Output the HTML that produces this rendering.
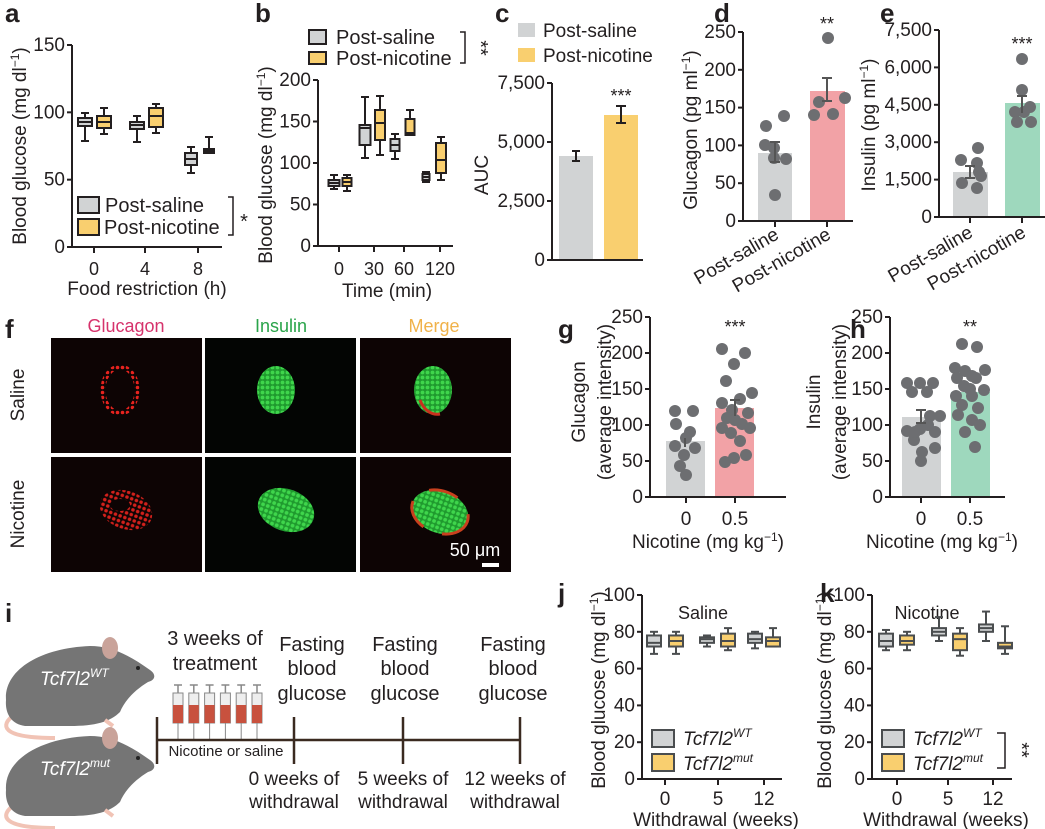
<!DOCTYPE html>
<html><head><meta charset="utf-8"><style>
html,body{margin:0;padding:0;background:#fff}
svg{display:block;font-family:"Liberation Sans",Arial,sans-serif}
</style></head><body>
<svg id="s" width="1045" height="829" viewBox="0 0 1045 829" xmlns="http://www.w3.org/2000/svg">
<defs>
<pattern id="dotsR" width="5" height="5" patternUnits="userSpaceOnUse"><circle cx="2.5" cy="2.5" r="1.8" fill="#e8231e"/></pattern>
<pattern id="dotsG" width="5" height="5" patternUnits="userSpaceOnUse"><rect width="5" height="5" fill="#1f9a2e"/><circle cx="2.5" cy="2.5" r="1.9" fill="#3fd64c"/></pattern>
</defs>
</svg>
<script>
const s=document.getElementById('s');let h='';
const GR='#d1d3d4',OR='#f9cf6f',PK='#f2a2a6',GN='#9ed8bd',DT='#6d6e71',AX='#231f20';
function t(x,y,str,o={}){h+=`<text x="${x}" y="${y}" font-size="${o.fs||17}" text-anchor="${o.a||'middle'}" fill="${o.c||AX}" ${o.b?'font-weight="bold"':''} ${o.i?'font-style="italic"':''} ${o.r!=null?`transform="rotate(${o.r} ${x} ${y})"`:''}>${str}</text>`}
function L(x1,y1,x2,y2,w=2,c=AX){h+=`<line x1="${x1}" y1="${y1}" x2="${x2}" y2="${y2}" stroke="${c}" stroke-width="${w}"/>`}
function R(x,y,w,hh,f,st='none',sw=0){h+=`<rect x="${x}" y="${y}" width="${w}" height="${hh}" fill="${f}" stroke="${st}" stroke-width="${sw}"/>`}
function C(x,y,r=6,f=DT){h+=`<circle cx="${x}" cy="${y}" r="${r}" fill="${f}"/>`}
function axes(ax,y0,y1,xe,ticks,opts={}){
 L(ax,y0+1,ax,y1,2);L(ax-1,y0,xe,y0,2);
 ticks.forEach((v,i)=>{let y=y0-(y0-y1)*i/(ticks.length-1);L(ax-5,y,ax,y,2);t(ax-7,y+6,v,{a:'end',fs:opts.fs||19})});
}
function box(cx,w,q1,q3,md,lo,hi,f,st=AX){L(cx,lo,cx,hi,2,st);L(cx-4,lo,cx+4,lo,2,st);L(cx-4,hi,cx+4,hi,2,st);R(cx-w/2,q3,w,q1-q3,f,st,2);L(cx-w/2,md,cx+w/2,md,2,st)}
const ML='(mg dl<tspan font-size="12" dy="-7">−1</tspan><tspan dy="7">)</tspan>';
// a
t(5,22,'a',{a:'start',fs:26,b:1});
axes(72,247,45,222,['0','50','100','150']);
[94,145,198].forEach((x,i)=>{L(x,247,x,253);t(x,275,['0','4','8'][i],{fs:18})});
t(147,295,'Food restriction (h)',{fs:19});
t(26,146,'Blood glucose '+ML,{r:-90,fs:19});
box(85,14,126,118,122,141,113,GR);box(104,14,128,116,122,134,108,OR);
box(137,14,129,122,125,142,116,GR);box(156,14,127,108,116,133,104,OR);
box(191,12,165,153,159,173,147,GR);box(209,10,153,149,151,153,137,OR);
R(78,197,21,16,GR,AX,2);R(78,219,21,16,OR,AX,2);
t(105,212,'Post-saline',{a:'start',fs:20});t(104,234,'Post-nicotine',{a:'start',fs:20});
h+=`<polyline points="228,197 233,197 233,235 228,235" fill="none" stroke="${AX}" stroke-width="1.5"/>`;t(244,228,'*',{fs:20});
// b
t(255,22,'b',{a:'start',fs:26,b:1});
axes(318,246,80,453,['0','50','100','150','200']);
[339,374,404,440].forEach((x,i)=>{L(x,246,x,252);t(x,275,['0','30','60','120'][i],{fs:18})});
t(387,297,'Time (min)',{fs:19});
t(272,165,'Blood glucose '+ML,{r:-90,fs:19});
box(334,11,186,180,183,189,175,GR);box(347,9,186,178,182,191,175,OR);
box(365,11,145,125,128,158,97,GR);box(380,10,140,110,123,155,96,OR);
box(395,9,151,139,145,159,134,GR);box(410,9,135,119,133,135,110,OR);
box(426,7,180,174,177,182,172,GR);box(441,10,173,143,160,180,137,OR);
R(309,30,17,14,GR,AX,2);R(309,52,17,12,OR,AX,2);
t(336,44,'Post-saline',{a:'start',fs:20});t(336,65,'Post-nicotine',{a:'start',fs:20});
h+=`<polyline points="460,32 465,32 465,63 460,63" fill="none" stroke="${AX}" stroke-width="1.5"/>`;t(474,48,'**',{fs:20,r:90});
// c
t(495,22,'c',{a:'start',fs:26,b:1});
R(518,23,17,14,GR);R(518,48,17,14,OR);
t(543,37,'Post-saline',{a:'start',fs:19});t(543,62,'Post-nicotine',{a:'start',fs:19});
R(559,156,34,104,GR);R(604,115,34,145,OR);
axes(552,260,83,643,['0','2,500','5,000','7,500']);
L(576,151,576,161);L(572,151,580,151);L(572,161,580,161);
L(621,106,621,123);L(616,106,626,106);L(616,123,626,123);
t(621,102,'***',{fs:18});t(488,175,'AUC',{r:-90,fs:19});
// d
t(714,22,'d',{a:'start',fs:26,b:1});
R(758,153,34,68,GR);R(810,91,35,130,PK);
axes(743,221,32,853,['0','50','100','150','200','250']);
[775,827].forEach(x=>L(x,221,x,227));
[[766,126],[784,116],[765,145],[774,148],[786,159],[774,158],[775,195]].forEach(p=>C(...p));
[[828,38],[819,102],[845,98],[814,115],[833,114]].forEach(p=>C(...p));
L(775,142,775,162,2,'#555');L(770,142,780,142,2,'#555');L(770,162,780,162,2,'#555');
L(827,78,827,101,2,'#555');L(822,78,832,78,2,'#555');L(822,101,832,101,2,'#555');
t(827,30,'**',{fs:18});
t(697,130,'Glucagon (pg ml<tspan font-size="12" dy="-7">−1</tspan><tspan dy="7">)</tspan>',{r:-90,fs:19});
t(780,238,'Post-saline',{a:'end',fs:19,r:-30});t(832,238,'Post-nicotine',{a:'end',fs:19,r:-30});
// e
t(880,22,'e',{a:'start',fs:26,b:1});
R(953,172,35,45,GR);R(1005,103,35,114,GN);
axes(939,217,30,1045,['0','1,500','3,000','4,500','6,000','7,500']);
[970,1022].forEach(x=>L(x,217,x,223));
[[978,148],[961,160],[977,163],[979,172],[981,176],[962,183],[977,188]].forEach(p=>C(...p));
[[1022,59],[1022,90],[1030,107],[1015,112],[1024,112],[1017,122],[1031,122]].forEach(p=>C(...p));
L(970,166,970,178,2,'#555');L(965,166,975,166,2,'#555');L(965,178,975,178,2,'#555');
L(1022,96,1022,113,2,'#555');L(1017,96,1027,96,2,'#555');
t(1022,50,'***',{fs:18});
t(875,125,'Insulin (pg ml<tspan font-size="12" dy="-7">−1</tspan><tspan dy="7">)</tspan>',{r:-90,fs:19});
t(974,236,'Post-saline',{a:'end',fs:19,r:-30});t(1027,236,'Post-nicotine',{a:'end',fs:19,r:-30});
// f
t(5,338,'f',{a:'start',fs:26,b:1});
t(126,332,'Glucagon',{fs:18,c:'#d6336c'});t(281,332,'Insulin',{fs:18,c:'#2aa44a'});t(434,332,'Merge',{fs:18,c:'#f0b24a'});
[[51,338],[205,338],[360,338],[51,457],[205,457],[360,457]].forEach(([x,y],i)=>{R(x,y,151,115,i%3==1?'#030503':'#0d0404')});
h+=`<ellipse cx="120" cy="390" rx="17" ry="23" fill="none" stroke="url(#dotsR)" stroke-width="5"/>`;
h+=`<ellipse cx="276" cy="390" rx="19" ry="24" fill="url(#dotsG)"/>`;
h+=`<ellipse cx="433" cy="390" rx="19" ry="24" fill="url(#dotsG)"/><path d="M420,400 A19 24 0 0 0 440 414" stroke="#c8321e" stroke-width="3" fill="none"/>`;
h+=`<ellipse cx="126" cy="510" rx="27" ry="19" fill="url(#dotsR)" opacity="0.9" transform="rotate(20 126 510)"/><ellipse cx="120" cy="505" rx="10" ry="6" fill="#0d0404"/>`;
h+=`<ellipse cx="286" cy="510" rx="29" ry="21" fill="url(#dotsG)" transform="rotate(20 286 510)"/>`;
h+=`<ellipse cx="440" cy="512" rx="29" ry="21" fill="url(#dotsG)" transform="rotate(20 440 512)"/><ellipse cx="440" cy="512" rx="29" ry="21" fill="none" stroke="#c8401e" stroke-width="3" stroke-dasharray="30 20" transform="rotate(20 440 512)"/>`;
t(24,395,'Saline',{r:-90,fs:19});t(24,514,'Nicotine',{r:-90,fs:19});
t(475,556,'50 μm',{fs:18,c:'#fff'});R(482,563,17,4,'#fff');
// g
t(558,338,'g',{a:'start',fs:26,b:1});
R(666,441,39,56,GR);R(715,408,39,89,PK);
axes(650,497,317,786,['0','50','100','150','200','250']);
[686,735].forEach((x,i)=>{L(x,497,x,503);t(x,525,['0','0.5'][i],{fs:19})});
t(708,548,'Nicotine (mg kg<tspan font-size="12" dy="-7">−1</tspan><tspan dy="7">)</tspan>',{fs:19});
t(585,402,'Glucagon',{r:-90,fs:19});t(611,402,'(average intensity)',{r:-90,fs:19});
[[675,411],[693,411],[676,424],[690,432],[686,438],[675,446],[695,448],[684,455],[686,475],[680,466]].forEach(p=>C(...p));
[[722,349],[745,353],[734,364],[726,381],[752,393],[740,399],[722,403],[732,410],[748,413],[727,418],[742,424],[722,428],[750,428],[731,433],[740,441],[746,455],[734,458],[725,462],[735,420]].forEach(p=>C(...p));
L(685,438,685,447,2,'#555');L(735,400,735,416,2,'#555');L(730,400,740,400,2,'#555');
t(735,333,'***',{fs:18});
// h
t(850,338,'h',{a:'start',fs:26,b:1});
R(902,417,39,80,GR);R(951,392,39,105,GN);
axes(890,497,317,1005,['0','50','100','150','200','250']);
[921,970].forEach((x,i)=>{L(x,497,x,503);t(x,525,['0','0.5'][i],{fs:19})});
t(942,548,'Nicotine (mg kg<tspan font-size="12" dy="-7">−1</tspan><tspan dy="7">)</tspan>',{fs:19});
t(820,402,'Insulin',{r:-90,fs:19});t(846,402,'(average intensity)',{r:-90,fs:19});
[[907,383],[920,383],[933,383],[912,392],[927,392],[930,416],[940,416],[907,431],[920,429],[935,432],[914,440],[935,448],[922,452],[921,461],[915,432],[928,425]].forEach(p=>C(...p));
[[962,344],[977,347],[955,368],[965,371],[985,370],[957,378],[976,378],[970,389],[984,390],[956,396],[972,396],[962,405],[978,408],[958,415],[972,420],[980,425],[965,432],[975,447],[972,376],[964,386]].forEach(p=>C(...p));
L(921,410,921,423,2,'#555');L(916,410,926,410,2,'#555');L(916,423,926,423,2,'#555');
t(970,333,'**',{fs:18});
// i
t(5,622,'i',{a:'start',fs:26,b:1});
function mouse(y,sup){
 h+=`<path d="M14,${y+75} C0,${y+85} 0,${y+98} 55,${y+98}" stroke="#f1c3b5" stroke-width="4" fill="none"/>`;
 h+=`<path d="M6,${y+60} C4,${y+30} 40,${y+8} 90,${y+6} C110,${y+6} 128,${y+14} 150,${y+30} C156,${y+34} 156,${y+40} 148,${y+42} C135,${y+50} 125,${y+60} 120,${y+72} C110,${y+82} 95,${y+86} 70,${y+86} L25,${y+86} C10,${y+84} 5,${y+72} 6,${y+60}Z" fill="#757575"/>`;
 h+=`<ellipse cx="110" cy="${y+8}" rx="8" ry="11" fill="#c9a39a"/><circle cx="138" cy="${y+28}" r="2" fill="#222"/>`;
 h+=`<path d="M105,${y+80} l8,6" stroke="#f1c3b5" stroke-width="4"/>`;
 t(40,y+45,`Tcf7l2<tspan font-size="12" dy="-8">${sup}</tspan>`,{a:'start',fs:19,i:1,c:'#fff'});}
mouse(640,'WT');mouse(730,'mut');
for(let k=0;k<6;k++){let x=178+k*15.8;L(x-4,685,x+4,685,1.5,'#888');L(x,685,x,693,1.5,'#888');R(x-5,693,10,30,'#eee','#888',1);R(x-5,705,10,18,'#c8513e');L(x,723,x,740,1,'#888');}
L(157,740,520,740,2.5,'#3a2a20');[157,294,403,520].forEach(x=>L(x,717,x,764,2.5,'#3a2a20'));
t(215,645,'3 weeks of',{fs:20});t(215,670,'treatment',{fs:20});
[312,405,513].forEach(x=>{t(x,651,'Fasting',{fs:20});t(x,675,'blood',{fs:20});t(x,700,'glucose',{fs:20});});
t(226,756,'Nicotine or saline',{fs:15});
[[294,'0 weeks of'],[403,'5 weeks of'],[515,'12 weeks of']].forEach(([x,s])=>{t(x,785,s,{fs:19});t(x,808,'withdrawal',{fs:19})});
// j,k
function wpanel(ax,xe,lbl,lx,title,tx,xs,boxes,stars,lo){
 t(lx,602,lbl,{a:'start',fs:26,b:1});
 axes(ax,779,595,xe,['0','20','40','60','80','100']);
 xs.forEach((x,i)=>{L(x,779,x,785);t(x,805,['0','5','12'][i],{fs:19})});
 t((ax+xe)/2+4,826,'Withdrawal (weeks)',{fs:19});
 t(tx,619,title,{fs:18});
 t(ax-lo,690,'Blood glucose '+ML,{r:-90,fs:19});
 const Y=v=>779-v*1.84;
 boxes.forEach(b=>box(b[0],14,Y(b[1]),Y(b[2]),Y(b[3]),Y(b[4]),Y(b[5]),b[6],'#4a4d4f'));
 R(ax+10,730,22,17,GR,'#4a4d4f',2);R(ax+10,754,22,17,OR,'#4a4d4f',2);
 t(ax+41,745,'Tcf7l2<tspan font-size="12" dy="-8">WT</tspan>',{a:'start',fs:19,i:1});
 t(ax+41,770,'Tcf7l2<tspan font-size="12" dy="-8">mut</tspan>',{a:'start',fs:19,i:1});
 if(stars){h+=`<polyline points="${ax+125},733 ${ax+133},733 ${ax+133},768 ${ax+125},768" fill="none" stroke="${AX}" stroke-width="1.5"/>`;t(ax+143,750,'**',{fs:20,r:90});}
}
wpanel(642,782,'j',558,'Saline',703,[665,718,764],
 [[654,72,78,74,68,80,GR],[676,72,78,75,68,80,OR],[707,74,77,76,72,78,GR],[728,72,79,75,70,82,OR],[755,74,79,76,71,80,GR],[773,72,77,75,72,82,OR]],0,37);
wpanel(872,1012,'k',820,'Nicotine',927,[897,948,993],
 [[886,72,79,75,70,81,GR],[907,73,78,75,70,80,OR],[939,78,82,80,75,88,GR],[960,70,79,76,67,82,OR],[986,80,84,82,75,91,GR],[1005,71,74,72,68,83,OR]],1,41);
s.insertAdjacentHTML('beforeend',h);
</script>
</body></html>
